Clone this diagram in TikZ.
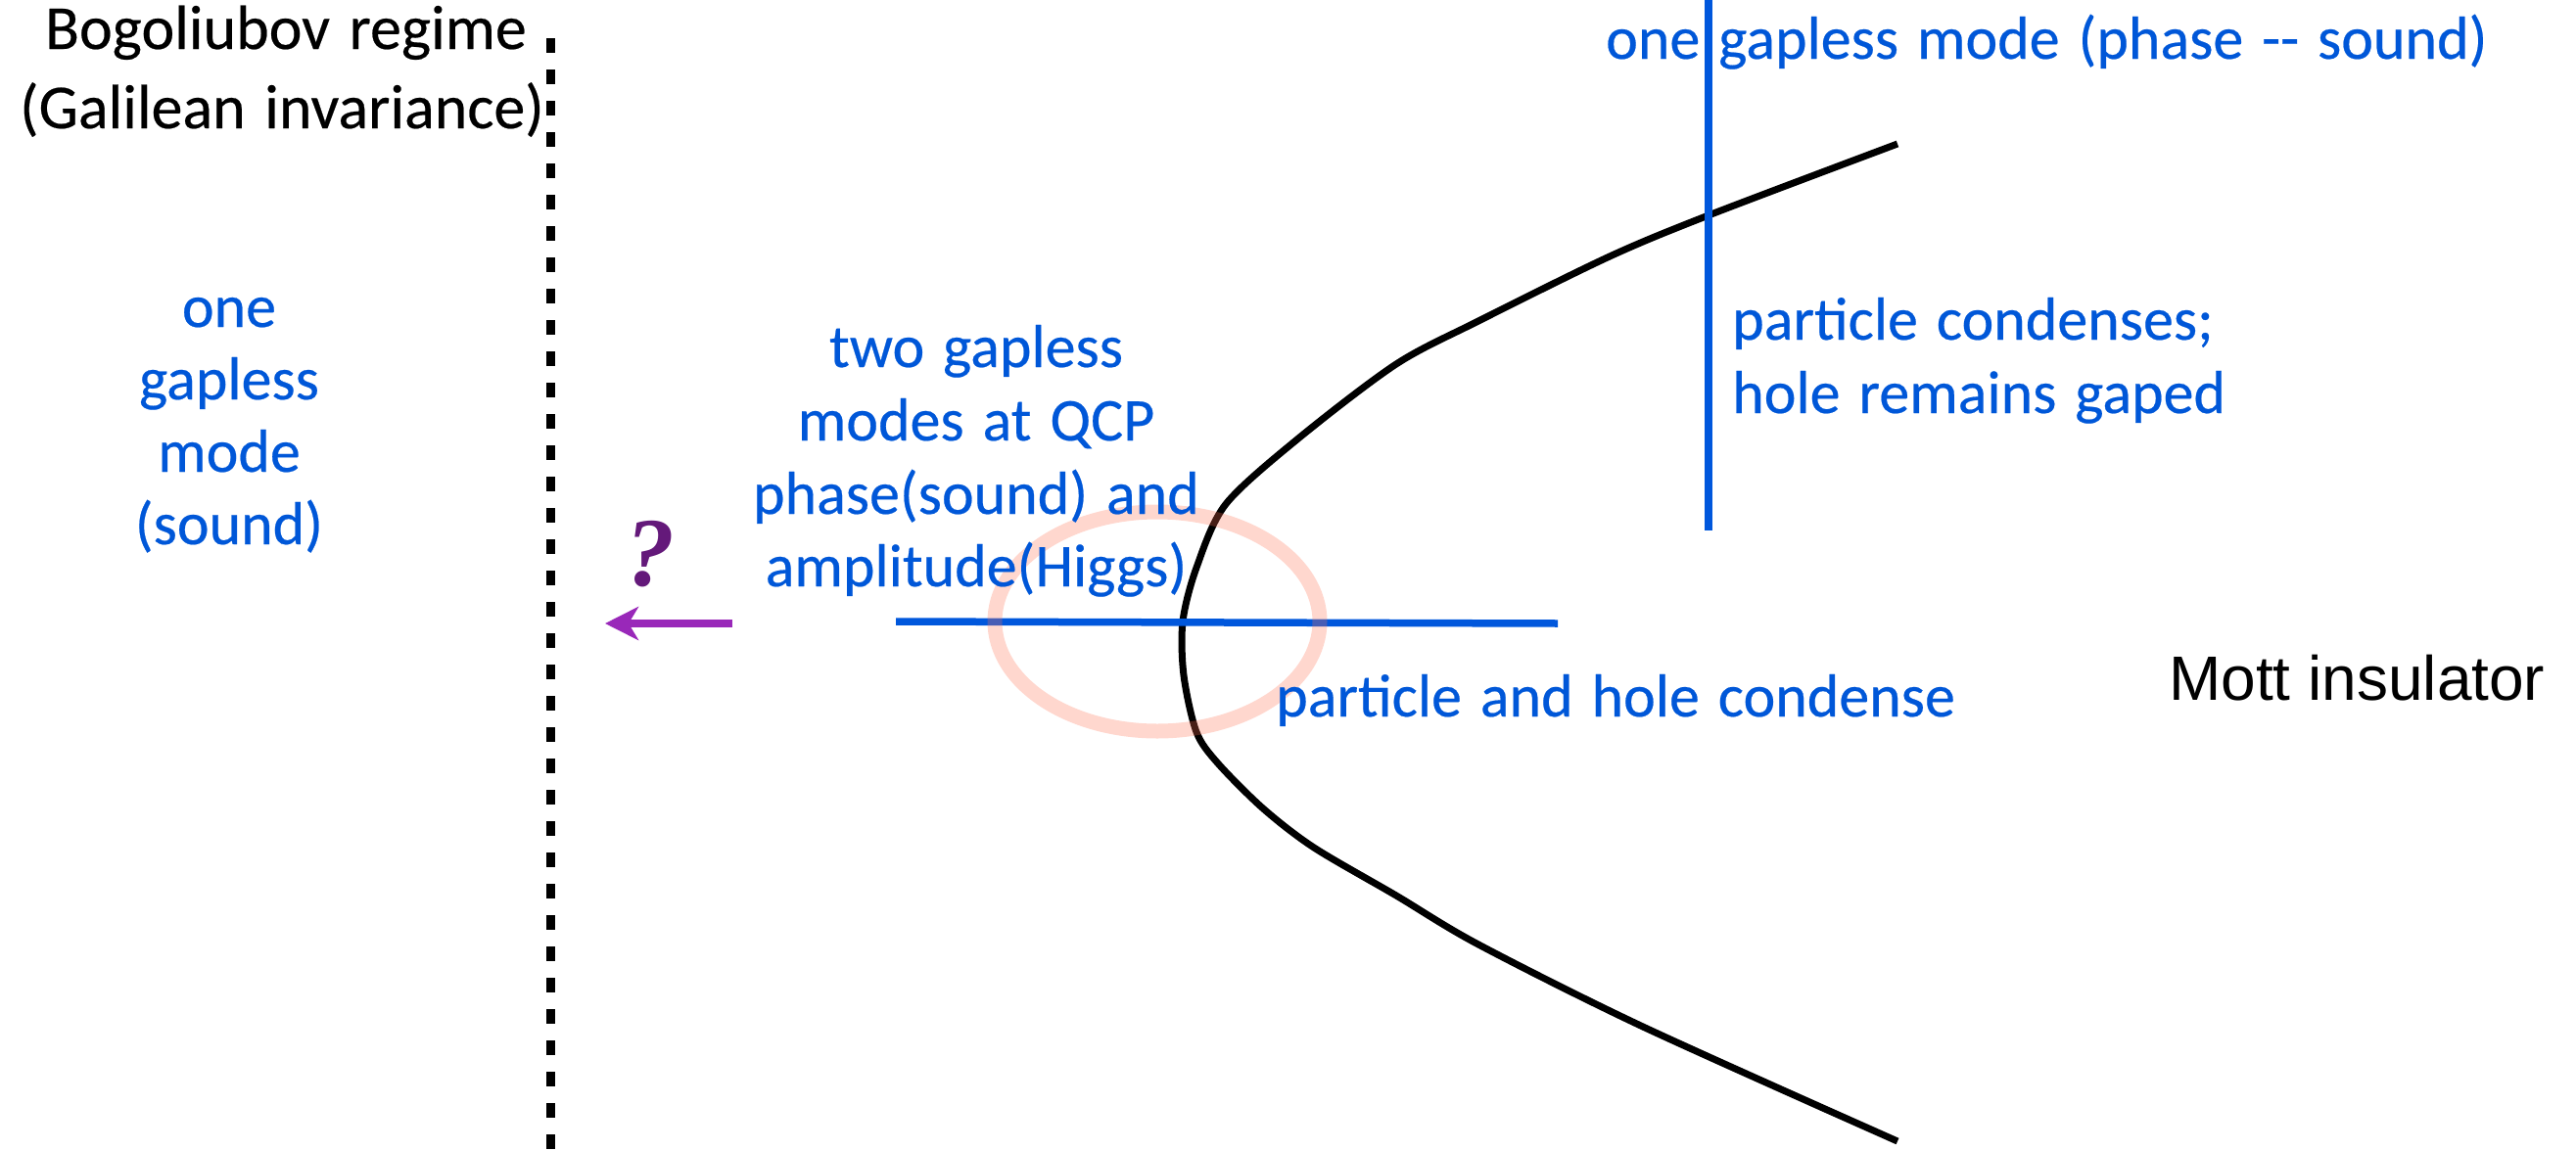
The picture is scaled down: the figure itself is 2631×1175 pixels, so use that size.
\documentclass[tikz,border=0pt]{standalone}
\usepackage{fontspec}
\setmainfont{Carlito}[WordSpace=1.35,FakeBold=0.35]
\newfontfamily\mottfont{Liberation Sans}
\newfontfamily\qfont{Liberation Serif}
\usetikzlibrary{arrows.meta}
\definecolor{txtblue}{RGB}{0,87,216}
\definecolor{lineblue}{RGB}{0,87,220}
\definecolor{arrpurple}{RGB}{153,40,185}
\definecolor{qpurple}{RGB}{100,25,122}
\definecolor{ringred}{RGB}{255,110,80}
\begin{document}
\begin{tikzpicture}[x=1pt,y=-1pt,
  bluetxt/.style={text=txtblue,font=\fontsize{62}{74}\selectfont,inner sep=0pt},
  blacktxt/.style={text=black,font=\fontsize{64}{74}\selectfont,inner sep=0pt},
  bluerule/.style={draw=lineblue,line width=7.5pt},
  boundary/.style={draw=black,line width=7pt,line join=round},
  dotrule/.style={draw=black,line width=9pt,dash pattern=on 15pt off 17pt}]
\useasboundingbox (0,0) rectangle (2631,1175);

% dotted separator
\coordinate (d1) at (562,39);
\coordinate (d2) at (562,1175);
\draw[dotrule] (d1) -- (d2);

% phase boundary
\draw[boundary] plot[smooth,tension=0.5] coordinates {
 (1938,147) (1745,220) (1644,262) (1510,328) (1426,372) (1326,448)
 (1252,515) (1222,580) (1208,635) (1209,690) (1222,748) (1244,780)
 (1290,826) (1342,866) (1426,915) (1510,965) (1678,1049) (1938,1166)};

% blue rules
\coordinate (h1) at (915,635);
\coordinate (h2) at (1591,637);
\draw[bluerule] (h1) -- (h2);
\coordinate (v1) at (1745,0);
\coordinate (v2) at (1745,542);
\draw[bluerule] (v1) -- (v2);

% ring
\node[draw=none,inner sep=0pt] (qcp) at (1182,635) {};
\draw[ringred,draw opacity=0.28,line width=15pt] (qcp) ellipse [x radius=166pt,y radius=112pt];

% purple arrow
\coordinate (a1) at (748,637);
\coordinate (a2) at (618,637);
\draw[arrpurple,line width=8pt,-{Stealth[length=34pt,width=34pt,inset=10pt]}] (a1) -- (a2);
\node[text=qpurple,font=\qfont\bfseries\itshape\fontsize{100}{100}\selectfont,inner sep=0pt,anchor=base] (q) at (664,598) {?};

% black texts
\node[blacktxt,anchor=base] (bog1) at (292,50) {Bogoliubov regime};
\node[blacktxt,anchor=base] (bog2) at (288,131) {(Galilean invariance)};
\node[inner sep=0pt,anchor=base west,font=\mottfont\fontsize{64}{64}\selectfont] (mott) at (2215,715) {Mott insulator};

% blue texts
\node[bluetxt,anchor=base west] (top) at (1640,60) {one gapless mode (phase -{}- sound)};
\node[bluetxt,anchor=base] (l1) at (234,334) {one};
\node[bluetxt,anchor=base] (l2) at (234,408) {gapless};
\node[bluetxt,anchor=base] (l3) at (234,482) {mode};
\node[bluetxt,anchor=base] (l4) at (234,556) {(sound)};
\node[bluetxt,anchor=base] (c1) at (997,375) {two gapless};
\node[bluetxt,anchor=base] (c2) at (997,450) {modes at QCP};
\node[bluetxt,anchor=base] (c3) at (997,525) {phase(sound) and};
\node[bluetxt,anchor=base] (c4) at (997,599) {amplitude(Higgs)};
\node[bluetxt,anchor=base west] (ph) at (1303,732) {particle and hole condense};
\node[bluetxt,anchor=base west] (pc1) at (1769,347) {particle condenses;};
\node[bluetxt,anchor=base west] (pc2) at (1769,422) {hole remains gaped};
\end{tikzpicture}
\end{document}
